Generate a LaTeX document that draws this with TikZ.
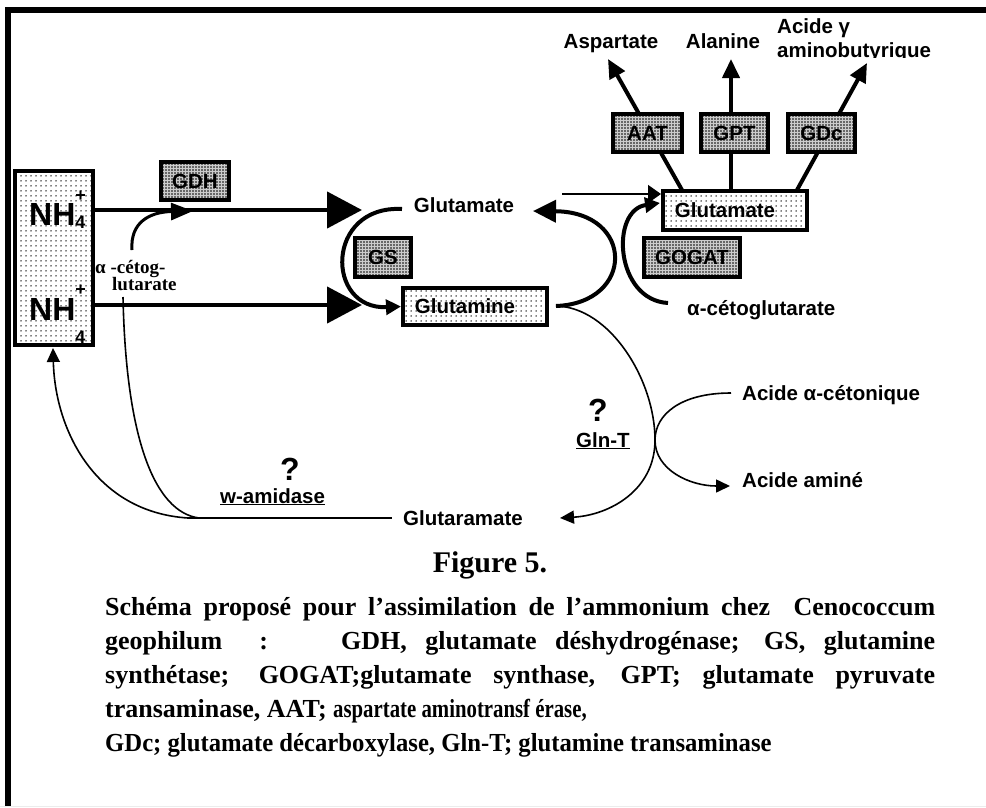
\documentclass[tikz,border=0pt]{standalone}
\usepackage{fontspec}
\setmainfont{Liberation Serif}
\setsansfont{Liberation Sans}
\newfontfamily\narrowserif[FakeStretch=0.8]{Liberation Serif}
\newfontfamily\semiserif[FakeStretch=0.95]{Liberation Serif}
\usetikzlibrary{arrows.meta,patterns}
\pgfdeclarelayer{bg}
\pgfsetlayers{bg,main}
\pgfdeclarepatternformonly{lightdots}{\pgfqpoint{0pt}{0pt}}{\pgfqpoint{2pt}{2pt}}{\pgfqpoint{5pt}{5pt}}{\pgfpathcircle{\pgfqpoint{1pt}{1pt}}{0.75pt}\pgfusepath{fill}}
\pgfdeclarepatternformonly{darkdots}{\pgfqpoint{0pt}{0pt}}{\pgfqpoint{2pt}{2pt}}{\pgfqpoint{3pt}{3pt}}{\pgfpathcircle{\pgfqpoint{1pt}{1pt}}{0.85pt}\pgfusepath{fill}}
\newcommand\lblfont{\sffamily\bfseries\fontsize{20.5}{22}\selectfont}
\newcommand\nhsc[2]{\rlap{\raisebox{#1}{\fontsize{18}{18}\selectfont+}}\raisebox{#2}{\fontsize{18}{18}\selectfont 4}}
\tikzset{
  lightbox/.style={draw, line width=4pt, preaction={fill=white}, pattern=lightdots, inner sep=0pt, font=\lblfont},
  darkbox/.style={draw, line width=4pt, preaction={fill=gray!40}, pattern=darkdots, inner sep=0pt, font=\lblfont},
  lbl/.style={inner sep=0pt, font=\lblfont},
  serlbl/.style={inner sep=0pt, font=\rmfamily\bfseries\fontsize{19}{19}\selectfont},
  qmark/.style={inner sep=0pt, font=\sffamily\bfseries\fontsize{32}{32}\selectfont},
  hugearrow/.style={line width=4.5pt, -{Triangle[length=35pt,width=36pt]}},
  arcarrow/.style={line width=4pt, -{Triangle[length=23pt,width=22pt]}},
  medarrow/.style={line width=4pt, -{Triangle[length=15pt,width=15pt]}},
  gdharrow/.style={line width=3pt, -{Triangle[length=22pt,width=17pt]}},
  enzarrow/.style={line width=4pt, -{Triangle[length=19pt,width=17pt]}},
  thinline/.style={line width=1.6pt},
  thinarrow/.style={line width=1.6pt, -{Triangle[length=14pt,width=13pt]}},
  thinarrowb/.style={line width=1.6pt, -{Triangle[length=13pt,width=18pt]}}
}
\begin{document}
\begin{tikzpicture}[x=1pt,y=-1pt]
\useasboundingbox (0,0) rectangle (986,807);
% frame
\draw[line width=6pt] (8,807) -- (8,10) -- (986,10);
\draw[gray!15, line width=1pt] (0,806) -- (986,806);

% boxes
\node[lightbox, minimum width=78pt, minimum height=174pt] (nh) at (54,258) {};
\node[darkbox, minimum width=68pt, minimum height=38pt] (gdh) at (195,181) {GDH};
\node[darkbox, minimum width=56pt, minimum height=39pt] (gs) at (383,257.5) {GS};
\node[lightbox, minimum width=144pt, minimum height=37pt] (glm) at (475,306.5) {Glutamine\hspace*{20pt}};
\node[lightbox, minimum width=144pt, minimum height=39pt] (glu2) at (735,210.5) {Glutamate\hspace*{20pt}};
\node[darkbox, minimum width=96pt, minimum height=39pt] (gogat) at (692,257.5) {GOGAT};
\node[darkbox, minimum width=69pt, minimum height=38pt] (aat) at (647.5,133) {AAT};
\node[darkbox, minimum width=67pt, minimum height=38pt] (gpt) at (734.5,133) {GPT};
\node[darkbox, minimum width=67pt, minimum height=38pt] (gdc) at (821.5,133) {GDc};

% NH4 texts
\node[inner sep=0pt, anchor=base west, font=\sffamily\bfseries\fontsize{32}{32}\selectfont] (nh1) at (29,225) {NH\nhsc{24pt}{-3pt}};
\node[inner sep=0pt, anchor=base west, font=\sffamily\bfseries\fontsize{32}{32}\selectfont] (nh2) at (29,320) {NH\nhsc{25pt}{-23pt}};

% labels
\node[lbl, anchor=base] (glu1) at (464,212) {Glutamate};
\node[lbl, anchor=base] (asp) at (611,48) {Aspartate};
\node[lbl, anchor=base] (ala) at (723,48) {Alanine};
\node[lbl, anchor=base west] (gaba1) at (777,33) {Acide γ};
\begin{scope}
  \clip (770,30) rectangle (950,57.5);
  \node[lbl, anchor=base west] (gaba2) at (777,57) {aminobutyrique};
\end{scope}
\node[lbl, anchor=base west] (ckg2) at (687,315) {α-cétoglutarate};
\node[serlbl, anchor=base west] (ckg1a) at (95,273) {α -cétog-};
\node[serlbl, anchor=base west] (ckg1b) at (112,290) {lutarate};
\node[qmark, anchor=base] (q1) at (598,421) {?};
\node[lbl, anchor=base west] (glnt) at (576,447) {\underline{Gln-T}};
\node[qmark, anchor=base] (q2) at (290,480) {?};
\node[lbl, anchor=base west] (wam) at (220,503) {\underline{w-amidase}};
\node[lbl, anchor=base west] (glur) at (403,525) {Glutaramate};
\node[lbl, anchor=base west] (acet) at (742,400) {Acide α-cétonique};
\node[lbl, anchor=base west] (aam) at (742,487) {Acide aminé};

% caption
\node[inner sep=0pt, anchor=base, font=\rmfamily\bfseries\fontsize{30}{30}\selectfont] (fig) at (490,572) {Figure 5.};
\node[inner sep=0pt, anchor=north west, text width=830pt, align=justify, font=\rmfamily\bfseries\fontsize{26}{34}\selectfont] (cap) at (105,597) {Schéma proposé pour l’assimilation de l’ammonium chez\ \ Cenococcum\linebreak geophilum\ \ :\hspace{36pt plus 10pt}GDH, glutamate déshydrogénase; GS, glutamine\linebreak synthétase; GOGAT;glutamate synthase, GPT; glutamate pyruvate\linebreak transaminase, AAT; {\narrowserif\bfseries aspartate aminotransf érase,}\hfill\null\newline {\semiserif\bfseries GDc; glutamate décarboxylase, Gln-T; glutamine transaminase}\hfill\null};

% coordinates
\coordinate (tipA) at (362,210);
\coordinate (tipB) at (362,305);
\coordinate (cg1) at (132,250);
\coordinate (gdhTip) at (193,211);
\coordinate (gsS) at (402,209);
\coordinate (glmR) at (556,306);
\coordinate (gluTip) at (533,211);
\coordinate (kiss) at (655,440);
\coordinate (glurTip) at (560,518);
\coordinate (acS) at (731,393);
\coordinate (aamTip) at (730,486);
\coordinate (e1) at (682,190);
\coordinate (e2) at (731,190);
\coordinate (e3) at (797,190);
\coordinate (aspTip) at (608,59);
\coordinate (alaTip) at (731,59);
\coordinate (gabaTip) at (867,63);
\coordinate (thinS) at (562,194);
\coordinate (ckgS) at (668,303);
\coordinate (gogTip) at (660,203);
\coordinate (hl) at (188,518);
\coordinate (hr) at (392,518);
\coordinate (jn) at (199,518);
\coordinate (lut) at (123,297);
\coordinate (nhTip) at (53,348);

% connectors
\draw[hugearrow] (nh.east |- tipA) -- (tipA);
\draw[hugearrow] (nh.east |- tipB) -- (tipB);
\draw[gdharrow] (cg1) .. controls (130,222) and (150,212) .. (gdhTip);
\draw[medarrow] (gsS) .. controls (325,205) and (325,310) .. (glm.west);
\draw[arcarrow] (glmR) .. controls (635,303) and (635,212) .. (gluTip);
\draw[thinline] (glmR) .. controls (610,307) and (655,380) .. (kiss);
\draw[thinarrow] (kiss) .. controls (655,490) and (610,515) .. (glurTip);
\draw[thinline] (acS) .. controls (680,393) and (655,415) .. (kiss);
\draw[thinarrow] (kiss) .. controls (655,470) and (690,486) .. (aamTip);
\begin{pgfonlayer}{bg}
\draw[enzarrow] (e1) -- (aspTip);
\draw[enzarrow] (e2) -- (alaTip);
\draw[enzarrow] (e3) -- (gabaTip);
\end{pgfonlayer}
\draw[thinarrowb] (thinS) -- (glu2.west |- thinS);
\draw[medarrow] (ckgS) .. controls (615,300) and (610,210) .. (gogTip);
\draw[thinline] (hl) -- (hr);
\draw[thinarrow] (hl) .. controls (95,512) and (55,430) .. (nhTip);
\draw[thinline] (lut) .. controls (126,440) and (155,512) .. (jn);
\end{tikzpicture}
\end{document}
